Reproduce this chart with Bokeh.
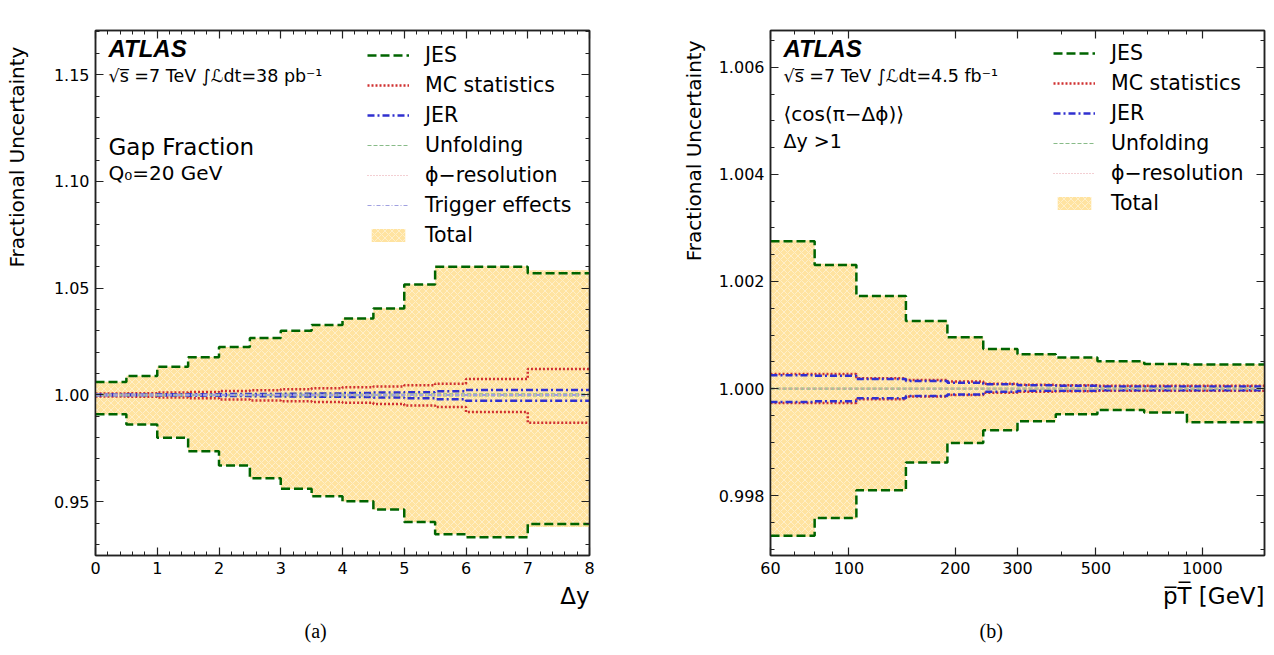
import math
import numpy as np
from bokeh.plotting import figure
from bokeh.models import (Label, Legend, LegendItem, LinearAxis, LogAxis, SingleIntervalTicker,
                          FixedTicker, NumeralTickFormatter, CustomJSTickFormatter, Range1d, Title)
from bokeh.layouts import row
from bokeh.embed import file_html
from bokeh.resources import INLINE

# ---------------- data: panel (a) gap fraction vs delta-y ----------------
dy_edges = [0.0, 0.5, 1.0, 1.5, 2.0, 2.5, 3.0, 3.5, 4.0, 4.5, 5.0, 5.5, 6.0, 7.0, 8.0]
a_jes_up = [1.0061, 1.0089, 1.0132, 1.0177, 1.0224, 1.0267, 1.0301, 1.0328, 1.0358, 1.0405, 1.0517, 1.0601, 1.0601, 1.0570]
a_jes_dn = [0.9910, 0.9862, 0.9800, 0.9736, 0.9669, 0.9610, 0.9561, 0.9525, 0.9502, 0.9463, 0.9405, 0.9348, 0.9334, 0.9396]
a_mc_up = [1.0007, 1.0008, 1.0012, 1.0014, 1.0019, 1.0022, 1.0027, 1.0031, 1.0036, 1.0040, 1.0045, 1.0053, 1.0075, 1.0122]
a_mc_dn = [0.9993, 0.9992, 0.9988, 0.9985, 0.9979, 0.9974, 0.9970, 0.9967, 0.9963, 0.9958, 0.9950, 0.9943, 0.9920, 0.9870]
a_jer_up = [1.0002, 1.0002, 1.0003, 1.0003, 1.0004, 1.0005, 1.0006, 1.0007, 1.0009, 1.0011, 1.0013, 1.0017, 1.0023, 1.0023]
a_jer_dn = [0.9998, 0.9998, 0.9997, 0.9996, 0.9995, 0.9994, 0.9993, 0.9992, 0.9990, 0.9988, 0.9984, 0.9980, 0.9973, 0.9973]
a_unf_up = [1.0003, 1.0003, 1.0003, 1.0003, 1.0003, 1.0003, 1.0004, 1.0004, 1.0004, 1.0004, 1.0005, 1.0005, 1.0005, 1.0005]
a_unf_dn = [0.9997, 0.9997, 0.9997, 0.9997, 0.9997, 0.9997, 0.9996, 0.9996, 0.9996, 0.9996, 0.9995, 0.9995, 0.9995, 0.9995]
a_phi_up = [1.0002, 1.0002, 1.0002, 1.0002, 1.0002, 1.0002, 1.0002, 1.0002, 1.0002, 1.0002, 1.0002, 1.0002, 1.0002, 1.0002]
a_phi_dn = [0.9998, 0.9998, 0.9998, 0.9998, 0.9998, 0.9998, 0.9998, 0.9998, 0.9998, 0.9998, 0.9998, 0.9998, 0.9998, 0.9998]
a_trg_up = [1.0004, 1.0004, 1.0003, 1.0003, 1.0002, 1.0002, 1.0002, 1.0002, 1.0002, 1.0002, 1.0002, 1.0002, 1.0002, 1.0002]
a_trg_dn = [0.9996, 0.9996, 0.9997, 0.9997, 0.9998, 0.9998, 0.9998, 0.9998, 0.9998, 0.9998, 0.9998, 0.9998, 0.9998, 0.9998]
a_tot_up = [1.0062, 1.0090, 1.0133, 1.0178, 1.0225, 1.0268, 1.0302, 1.0329, 1.0359, 1.0406, 1.0518, 1.0602, 1.0603, 1.0584]
a_tot_dn = [0.9909, 0.9861, 0.9799, 0.9735, 0.9668, 0.9609, 0.9560, 0.9524, 0.9501, 0.9462, 0.9404, 0.9347, 0.9333, 0.9382]

# ---------------- data: panel (b) <cos(pi - dphi)> vs mean pT ----------------
pt_edges = [60, 80, 105, 145, 190, 240, 300, 385, 505, 685, 905, 1500]
b_jes_up = [1.00275, 1.00231, 1.00173, 1.00126, 1.00096, 1.00074, 1.00064, 1.00058, 1.00051, 1.00046, 1.00045]
b_jes_dn = [0.99725, 0.99758, 0.99810, 0.99862, 0.99898, 0.99922, 0.99939, 0.99952, 0.99960, 0.99955, 0.99937]
b_mc_up = [1.00027, 1.00027, 1.00019, 1.00016, 1.00013, 1.00009, 1.00007, 1.00006, 1.00005, 1.00005, 1.00005]
b_mc_dn = [0.99973, 0.99973, 0.99980, 0.99985, 0.99988, 0.99992, 0.99994, 0.99995, 0.99996, 0.99996, 0.99996]
b_jer_up = [1.00025, 1.00024, 1.00018, 1.00014, 1.00011, 1.00008, 1.00006, 1.00005, 1.00004, 1.00004, 1.00004]
b_jer_dn = [0.99975, 0.99976, 0.99982, 0.99986, 0.99989, 0.99994, 0.99996, 0.99996, 0.99997, 0.99997, 0.99997]
b_unf_up = [1.00001, 1.00001, 1.00001, 1.00001, 1.00001, 1.00001, 1.00001, 1.00001, 1.00001, 1.00001, 1.00001]
b_unf_dn = [0.99999, 0.99999, 0.99999, 0.99999, 0.99999, 0.99999, 0.99999, 0.99999, 0.99999, 0.99999, 0.99999]
b_phi_up = [1.000005, 1.000005, 1.000005, 1.000005, 1.000005, 1.000005, 1.000005, 1.000005, 1.000005, 1.000005, 1.000005]
b_phi_dn = [0.999995, 0.999995, 0.999995, 0.999995, 0.999995, 0.999995, 0.999995, 0.999995, 0.999995, 0.999995, 0.999995]
b_tot_up = [1.00277, 1.00233, 1.00174, 1.00127, 1.00097, 1.00075, 1.00065, 1.00058, 1.00051, 1.00047, 1.00046]
b_tot_dn = [0.99723, 0.99756, 0.99809, 0.99861, 0.99897, 0.99921, 0.99938, 0.99951, 0.99959, 0.99954, 0.99936]

FONT = "DejaVu Sans"

# screen geometry (px) of the two frames
TOP, BOT = 30, 555
LX0, LX1 = 95, 589
RX0, RX1 = 770, 1264
A_YR = (0.9248, 1.1707)
B_YR = (0.99688, 1.00669)
B_XR = (60, 1500)
FIG_H = 652
YL_W = 30  # width of the strip holding panel (a)'s y-axis title


def a_x(px):
    return (px - LX0) / (LX1 - LX0) * (dy_edges[-1] - dy_edges[0]) + dy_edges[0]


def a_y(py):
    return A_YR[1] - (py - TOP) / (BOT - TOP) * (A_YR[1] - A_YR[0])


def b_x(px):
    f = (px - RX0) / (RX1 - RX0)
    return B_XR[0] * 10 ** (f * math.log10(B_XR[1] / B_XR[0]))


def b_y(py):
    return B_YR[1] - (py - TOP) / (BOT - TOP) * (B_YR[1] - B_YR[0])


def steps(edges, vals):
    xs = np.repeat(np.asarray(edges, float), 2)[1:-1]
    ys = np.repeat(np.asarray(vals, float), 2)
    return xs, ys


def style_axis(ax, size="16px"):
    ax.major_tick_in = 8
    ax.major_tick_out = 0
    ax.minor_tick_in = 4
    ax.minor_tick_out = 0
    ax.axis_line_width = 1.5
    ax.axis_line_color = "#222222"
    ax.major_tick_line_color = "#222222"
    ax.minor_tick_line_color = "#222222"
    ax.major_tick_line_width = 1.2
    ax.minor_tick_line_width = 1.0
    ax.major_label_text_font = FONT
    ax.major_label_text_font_size = size
    ax.major_label_text_color = "black"
    ax.major_label_standoff = 6


def mirror_axes(p, yticker, xticker, log_x=False):
    blank = CustomJSTickFormatter(code="return ''")
    ra = LinearAxis(ticker=yticker, formatter=blank)
    style_axis(ra)
    ra.major_label_standoff = 0
    p.add_layout(ra, "right")
    ta = (LogAxis if log_x else LinearAxis)(ticker=xticker, formatter=blank)
    style_axis(ta)
    ta.major_label_standoff = 0
    p.add_layout(ta, "above")


def lbl(p, x, y, text, size, **kw):
    opts = dict(text_font=FONT, text_font_size=size, text_color="black",
                text_baseline="middle", text_align="left")
    opts.update(kw)
    p.add_layout(Label(x=x, y=y, text=text, **opts))


def ytitle(p, text, standoff):
    p.add_layout(Title(text=text, align="right", text_font=FONT, text_font_size="20px",
                       text_font_style="normal", text_color="black", standoff=standoff, offset=10), "left")


def bottom_titles(p, xlabel, caption, cap_offset):
    p.add_layout(Title(text=xlabel, align="right", text_font=FONT, text_font_size="23px",
                       text_font_style="normal", text_color="black", standoff=8), "below")
    p.add_layout(Title(text=caption, align="left", text_font="Liberation Serif", text_font_size="20px",
                       text_font_style="normal", text_color="black", standoff=10, offset=cap_offset,
                       vertical_align="bottom"), "below")


def draw_panel(p, edges, series, total):
    up, dn = total
    xs, yu = steps(edges, up)
    _, yd = steps(edges, dn)
    band = p.varea(x=xs, y1=yd, y2=yu, fill_color="#FFE3A0", fill_alpha=1.0,
                   hatch_pattern="diagonal_cross", hatch_color="white", hatch_alpha=0.55,
                   hatch_scale=7, hatch_weight=0.8)
    rends = {}
    for name, (su, sd, color, width, dash) in series.items():
        r = None
        for vals in (su, sd):
            ex = list(edges)
            ey = list(vals) + [vals[-1]]
            r = p.step(ex, ey, mode="after", line_color=color, line_width=width, line_dash=dash)
        rends[name] = r
    return band, rends


def make_fig(width, mbl, mbr, x_range, y_range, x_axis_type="linear"):
    p = figure(width=width, height=FIG_H, x_range=x_range, y_range=y_range,
               x_axis_type=x_axis_type, output_backend="svg", toolbar_location=None,
               min_border_left=mbl, min_border_right=mbr, min_border_top=TOP,
               min_border_bottom=FIG_H - BOT)
    p.xgrid.visible = False
    p.ygrid.visible = False
    p.outline_line_color = "#222222"
    p.outline_line_width = 1.5
    p.background_fill_color = "white"
    p.border_fill_color = "white"
    return p


def make_legend(p, items, loc):
    leg = Legend(items=items, location=loc)
    leg.background_fill_alpha = 0
    leg.border_line_color = None
    leg.padding = 0
    leg.margin = 0
    leg.spacing = 0
    leg.glyph_width = 42
    leg.glyph_height = 16
    leg.label_height = 30
    leg.label_standoff = 16
    leg.label_text_font = FONT
    leg.label_text_font_size = "20.5px"
    leg.label_text_color = "black"
    p.add_layout(leg)


# ---- narrow strip carrying the y-axis title of panel (a) ----
yl = figure(width=YL_W, height=FIG_H, x_range=Range1d(0, YL_W), y_range=Range1d(0, FIG_H),
            x_axis_location=None, y_axis_location=None, output_backend="svg", toolbar_location=None,
            min_border=0, min_border_left=0, min_border_right=0, min_border_top=0, min_border_bottom=0)
yl.xgrid.visible = False
yl.ygrid.visible = False
yl.outline_line_color = None
yl.background_fill_color = "white"
yl.border_fill_color = "white"
lbl(yl, 16, FIG_H - 20, "Fractional Uncertainty", "20px", angle=math.pi / 2, text_align="right")

# ================= panel (a) =================
p1 = make_fig(640 - YL_W, LX0 - YL_W, 640 - LX1, Range1d(dy_edges[0], dy_edges[-1]), Range1d(*A_YR))
xt1 = SingleIntervalTicker(interval=1, num_minor_ticks=5)
yt1 = SingleIntervalTicker(interval=0.05, num_minor_ticks=5)
p1.xaxis.ticker = xt1
p1.yaxis.ticker = yt1
p1.yaxis.formatter = NumeralTickFormatter(format="0.00")
for ax in p1.xaxis + p1.yaxis:
    style_axis(ax)
mirror_axes(p1, yt1, xt1)

series_a = {
    "JES": (a_jes_up, a_jes_dn, "#006400", 2.5, "9 4"),
    "MC statistics": (a_mc_up, a_mc_dn, "#D03030", 2.5, "2 2"),
    "JER": (a_jer_up, a_jer_dn, "#3030D0", 2.5, "7 3 2 3"),
    "Unfolding": (a_unf_up, a_unf_dn, "#88BB88", 1.2, "4 2"),
    "ϕ−resolution": (a_phi_up, a_phi_dn, "#E8A0A8", 1.2, "1 2"),
    "Trigger effects": (a_trg_up, a_trg_dn, "#A0A0E0", 1.2, "4 2 1 2"),
}
band1, r1 = draw_panel(p1, dy_edges, series_a, (a_tot_up, a_tot_dn))
items_a = [LegendItem(label=k, renderers=[r1[k]]) for k in series_a]
items_a.append(LegendItem(label="Total", renderers=[band1]))
make_legend(p1, items_a, (367 - LX0, BOT - 40 - 210))

lbl(p1, a_x(108), a_y(48), "ATLAS", "24px", text_font="Liberation Sans", text_font_style="bold italic")
lbl(p1, a_x(108), a_y(75), "√s̅ =7 TeV  ∫ℒdt=38 pb⁻¹", "17.5px")
lbl(p1, a_x(108), a_y(146), "Gap Fraction", "23px")
lbl(p1, a_x(108), a_y(172), "Q₀=20 GeV", "20px")
bottom_titles(p1, "Δy", "(a)", 209)

# ================= panel (b) =================
p2 = make_fig(626, RX0 - 640, 1266 - RX1, Range1d(*B_XR), Range1d(*B_YR), x_axis_type="log")
xt2 = FixedTicker(ticks=[60, 100, 200, 300, 500, 1000], minor_ticks=[70, 80, 90, 400, 600, 700, 800, 900])
yt2 = SingleIntervalTicker(interval=0.002, num_minor_ticks=4)
p2.xaxis.ticker = xt2
p2.xaxis.formatter = NumeralTickFormatter(format="0")
p2.yaxis.ticker = yt2
p2.yaxis.formatter = NumeralTickFormatter(format="0.000")
for ax in p2.xaxis + p2.yaxis:
    style_axis(ax)
mirror_axes(p2, yt2, xt2, log_x=True)

series_b = {
    "JES": (b_jes_up, b_jes_dn, "#006400", 2.5, "9 4"),
    "MC statistics": (b_mc_up, b_mc_dn, "#D03030", 2.5, "2 2"),
    "JER": (b_jer_up, b_jer_dn, "#3030D0", 2.5, "7 3 2 3"),
    "Unfolding": (b_unf_up, b_unf_dn, "#88BB88", 1.2, "4 2"),
    "ϕ−resolution": (b_phi_up, b_phi_dn, "#E8A0A8", 1.2, "1 2"),
}
band2, r2 = draw_panel(p2, pt_edges, series_b, (b_tot_up, b_tot_dn))
items_b = [LegendItem(label=k, renderers=[r2[k]]) for k in series_b]
items_b.append(LegendItem(label="Total", renderers=[band2]))
make_legend(p2, items_b, (1053 - RX0, BOT - 38 - 180))

lbl(p2, b_x(783), b_y(48), "ATLAS", "24px", text_font="Liberation Sans", text_font_style="bold italic")
lbl(p2, b_x(783), b_y(75), "√s̅ =7 TeV  ∫ℒdt=4.5 fb⁻¹", "17.5px")
lbl(p2, b_x(783), b_y(113), "⟨cos(π−Δϕ)⟩", "20px")
lbl(p2, b_x(783), b_y(140), "Δy >1", "19px")
ytitle(p2, "Fractional Uncertainty", 20)
bottom_titles(p2, "p̅T̅ [GeV]", "(b)", 209)

layout = row(yl, p1, p2)
open("out.html", "w").write(file_html(layout, INLINE))
